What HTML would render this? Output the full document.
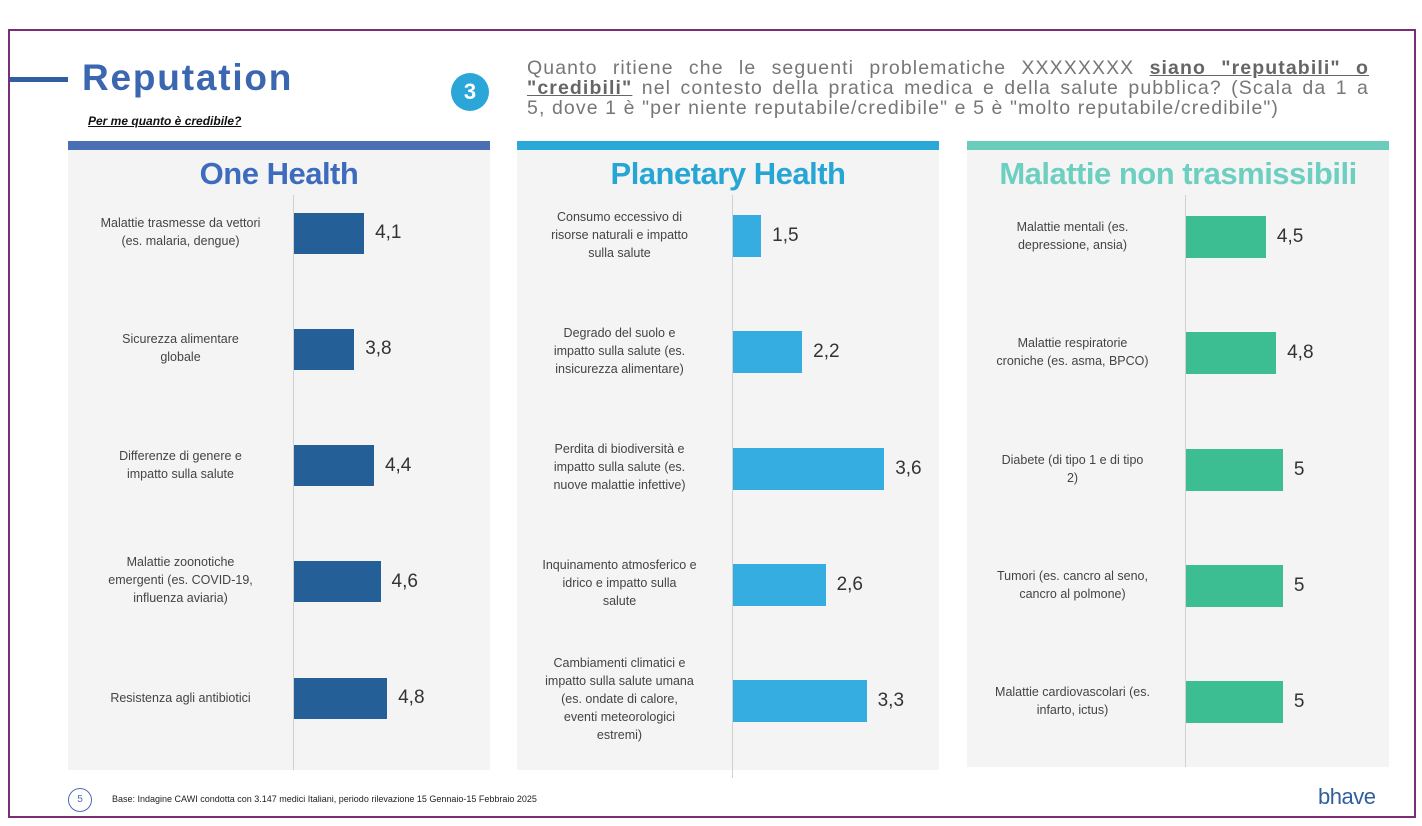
<!DOCTYPE html>
<html><head><meta charset="utf-8">
<style>
body{margin:0;width:1422px;height:826px;background:#fff;position:relative;overflow:hidden;font-family:"Liberation Sans",sans-serif;}
.abs{position:absolute;}
.lbl{position:absolute;text-align:center;font-size:12.5px;color:#444;line-height:18px;}
.val{position:absolute;font-size:19px;color:#333;}
.q{position:absolute;left:527px;width:842px;font-size:19.5px;line-height:20px;color:#777;white-space:nowrap;letter-spacing:1.1px;}
.j{text-align:justify;text-align-last:justify;white-space:normal;}
</style></head><body>
<div class="abs" style="left:8px;top:29px;width:1408px;height:789px;border:2px solid #7a2e78;box-sizing:border-box;"></div>
<div class="abs" style="left:10px;top:77px;width:58px;height:5px;background:#2f5f9e"></div>
<div class="abs" style="left:82px;top:57px;font-size:37px;letter-spacing:1.8px;font-weight:bold;color:#3b66b0;">Reputation</div>
<div class="abs" style="left:88px;top:114px;font-size:12px;font-style:italic;font-weight:bold;text-decoration:underline;color:#111;">Per me quanto è credibile?</div>
<div class="abs" style="left:451px;top:73px;width:38px;height:38px;border-radius:50%;background:#2ba6d9;color:#fff;font-weight:bold;font-size:22px;text-align:center;line-height:38px;">3</div>
<div>
<div class="q j" style="top:58px;">Quanto ritiene che le seguenti problematiche XXXXXXXX <b style="text-decoration:underline;color:#666">siano "reputabili" o</b></div>
<div class="q j" style="top:78px;"><b style="text-decoration:underline;color:#666">"credibili"</b> nel contesto della pratica medica e della salute pubblica? (Scala da 1 a</div>
<div class="q" style="top:98px;">5, dove 1 è "per niente reputabile/credibile" e 5 è "molto reputabile/credibile")</div>
</div>
<div id="panels"></div>
<div class="abs" style="left:68px;top:788px;width:24px;height:24px;border:1.5px solid #4a6fb5;border-radius:50%;box-sizing:border-box;font-size:10px;text-align:center;line-height:21px;color:#4a6fb5;">5</div>
<div class="abs" style="left:112px;top:794px;font-size:9px;color:#222;">Base: Indagine CAWI condotta con 3.147 medici Italiani, periodo rilevazione 15 Gennaio-15 Febbraio 2025</div>
<div class="abs" style="left:1318px;top:784px;font-size:22px;color:#2f5f9e;letter-spacing:-0.5px;">bhave</div>
<script>
const titles=["One Health","Planetary Health","Malattie non trasmissibili"];
const cats1=["Malattie trasmesse da vettori<br>(es. malaria, dengue)","Sicurezza alimentare<br>globale","Differenze di genere e<br>impatto sulla salute","Malattie zoonotiche<br>emergenti (es. COVID-19,<br>influenza aviaria)","Resistenza agli antibiotici"];
const vals1=[4.1,3.8,4.4,4.6,4.8];
const cats2=["Consumo eccessivo di<br>risorse naturali e impatto<br>sulla salute","Degrado del suolo e<br>impatto sulla salute (es.<br>insicurezza alimentare)","Perdita di biodiversità e<br>impatto sulla salute (es.<br>nuove malattie infettive)","Inquinamento atmosferico e<br>idrico e impatto sulla<br>salute","Cambiamenti climatici e<br>impatto sulla salute umana<br>(es. ondate di calore,<br>eventi meteorologici<br>estremi)"];
const vals2=[1.5,2.2,3.6,2.6,3.3];
const cats3=["Malattie mentali (es.<br>depressione, ansia)","Malattie respiratorie<br>croniche (es. asma, BPCO)","Diabete (di tipo 1 e di tipo<br>2)","Tumori (es. cancro al seno,<br>cancro al polmone)","Malattie cardiovascolari (es.<br>infarto, ictus)"];
const vals3=[4.5,4.8,5,5,5];
const cats=[cats1,cats2,cats3], vals=[vals1,vals2,vals3];
const cfg=[
 {x:68,axis:293,min:1.97,k:32.9,c0:233,h:41,bar:"#255f98",head:"#4a6fb5",tc:"#3d6cbf",bottom:770},
 {x:517,axis:732,min:1.02,k:58.6,c0:236,h:42,bar:"#36ade1",head:"#2aa8d8",tc:"#27a6d6",bottom:770},
 {x:967,axis:1185,min:2.15,k:34,c0:237,h:42,bar:"#3dbd92",head:"#6cccbc",tc:"#6dcfc0",bottom:767}];
const root=document.getElementById('panels');
function xs(i,v){return (v-cfg[i].min)*cfg[i].k;}
cfg.forEach((p,i)=>{
  const bg=document.createElement('div');bg.className='abs';
  
  
  bg.style.cssText=`left:${p.x}px;top:149px;width:422px;height:${p.bottom-149}px;background:#f4f4f4`;root.appendChild(bg);
  const hb=document.createElement('div');hb.className='abs';
  
  
  hb.style.cssText=`left:${p.x}px;top:141px;width:422px;height:9px;background:${p.head}`;root.appendChild(hb);
  const t=document.createElement('div');t.className='abs';
  
  
  t.style.cssText=`left:${p.x-20}px;top:156px;width:462px;text-align:center;font-size:31px;font-weight:bold;color:${p.tc};letter-spacing:-0.5px;white-space:nowrap`;
  t.textContent=titles[i];root.appendChild(t);
  const ax=document.createElement('div');ax.className='abs';
  
  
  ax.style.cssText=`left:${p.axis}px;top:195px;width:1px;height:${(i==1?778:p.bottom)-195}px;background:#d0d0d0`;root.appendChild(ax);
  vals[i].forEach((v,j)=>{
    const cy=p.c0+j*116.3;const w=xs(i,v);
    const b=document.createElement('div');b.className='abs';
    
    
    b.style.cssText=`left:${p.axis+1}px;top:${cy-p.h/2}px;width:${w}px;height:${p.h}px;background:${p.bar}`;root.appendChild(b);
    const vl=document.createElement('div');vl.className='val';
    
    
    vl.style.left=(p.axis+w+12)+'px';vl.style.top=(cy-11)+'px';
    vl.textContent=String(v).replace('.',',');root.appendChild(vl);
    const l=document.createElement('div');l.className='lbl';
    
    
    l.innerHTML=cats[i][j];root.appendChild(l);
    const n=cats[i][j].split('<br>').length;
    l.style.left=(p.axis-215)+'px';l.style.width='205px';l.style.top=(cy-n*9.5)+'px';
  });
});
</script>
</body></html>
